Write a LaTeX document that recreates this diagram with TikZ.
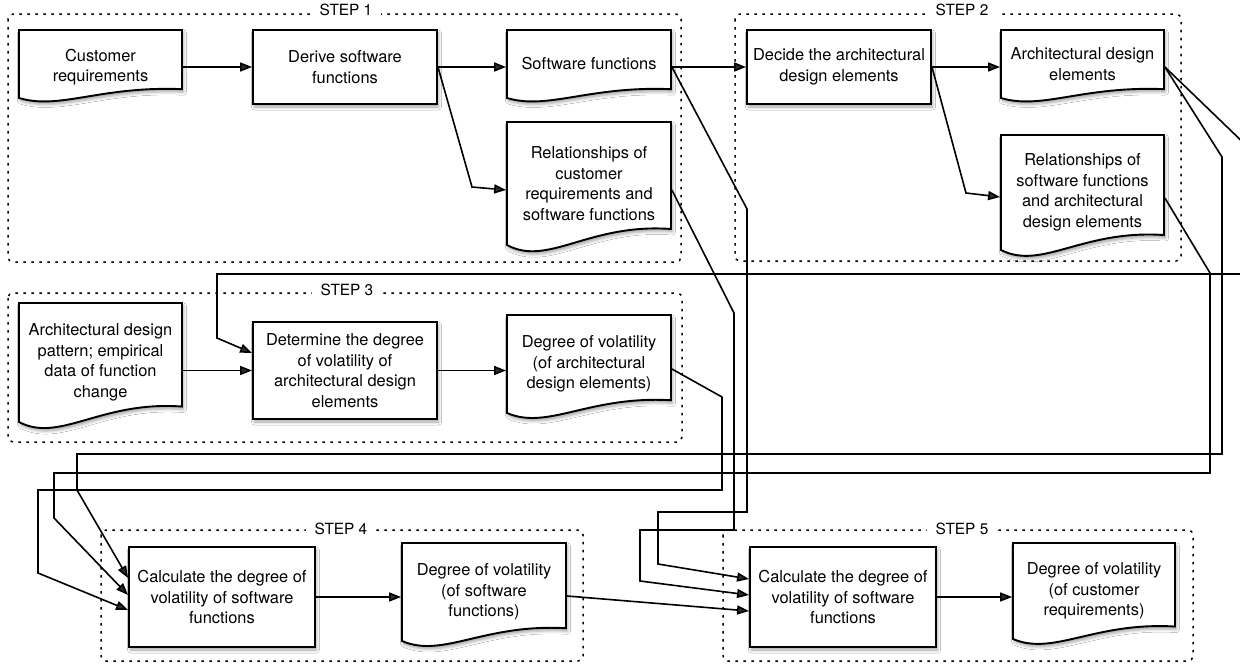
\documentclass[tikz,border=0pt]{standalone}
\usepackage{fontspec}
\setmainfont{TeX Gyre Heros}
\usetikzlibrary{arrows.meta,calc,shadows.blur}
\newcommand\mainfs{\fontsize{16.4}{20.5}\selectfont}
\newcommand\stepfs{\fontsize{15.4}{18}\selectfont}
\tikzset{
  softshadow/.style={blur shadow={shadow xshift=1.5pt, shadow yshift=-3pt, shadow blur radius=3pt, shadow opacity=35}},
  conn/.style={line width=1.6pt, -{Triangle[length=12pt,width=9pt]}},
  procbox/.style={draw, line width=1.9pt, fill=white, align=center, font=\mainfs, softshadow},
  doctext/.style={align=center, font=\mainfs, inner sep=0pt, outer sep=0.9pt},
  docline/.style={draw, line width=1.9pt, fill=white, softshadow},
  group/.style={line width=1.5pt, dash pattern=on 2.5pt off 5.5pt, rounded corners=5pt},
  steplabel/.style={fill=white, font=\stepfs, inner xsep=9pt, inner ysep=2pt, anchor=base},
}
\newcommand\docnode[7][]{%
  \pgfmathsetmacro\dh{#6-#4}%
  \pgfmathsetmacro\dw{#5-#3}%
  \path[docline] (#3,#4) -- (#5,#4) -- (#5,{#6-0.13*\dh}) .. controls ({#3+0.5*\dw},{#6-0.18*\dh}) and ({#3+0.25*\dw},{#6+0.18*\dh}) .. (#3,#6) -- cycle;
  \node[doctext, minimum width=\dw pt, minimum height=\dh pt, #1] (#2) at ({(#3+#5)/2},{(#4+#6)/2}) {#7};
}
\begin{document}
\begin{tikzpicture}[x=1pt,y=-1pt]
\useasboundingbox (0,0) rectangle (1240,664);
\fill[white] (0,0) rectangle (1240,664);
\clip (0,0) rectangle (1240,664);

% groups
\draw[group] (8,14) rectangle (681,262);
\draw[group] (735,14) rectangle (1181,261);
\draw[group] (8,293) rectangle (682,442);
\draw[group] (101,530) rectangle (583,661);
\draw[group] (723,530) rectangle (1193,661);
\node[steplabel] (s1) at (346,15.5) {STEP 1};
\node[steplabel] (s2) at (962,15.5) {STEP 2};
\node[steplabel] (s3) at (347,295) {STEP 3};
\node[steplabel] (s4) at (341,534) {STEP 4};
\node[steplabel] (s5) at (962,534) {STEP 5};

% nodes
\docnode[yshift=-3pt]{cust}{19}{30}{182}{98}{Customer\\requirements}
\node[procbox, minimum width=184pt, minimum height=74pt] (derive) at (345,67) {Derive software\\functions};
\docnode{swf}{507}{30}{671}{98}{Software functions}
\docnode{rel1}{507}{122}{671}{245}{Relationships of\\customer\\requirements and\\software functions}
\node[procbox, minimum width=184pt, minimum height=74pt] (decide) at (839,67) {Decide the architectural\\design elements};
\docnode{arch}{1001}{30}{1164}{98}{Architectural design\\elements}
\docnode{rel2}{1001}{135}{1164}{250}{Relationships of\\software functions\\and architectural\\design elements}
\docnode{pattern}{19}{303}{182}{422}{Architectural design\\pattern; empirical\\data of function\\change}
\node[procbox, minimum width=184pt, minimum height=97pt] (determine) at (345,370.5) {Determine the degree\\of volatility of\\architectural design\\elements};
\docnode{dvarch}{507}{315}{671}{413}{Degree of volatility\\(of architectural\\design elements)}
\node[procbox, minimum width=186pt, minimum height=100pt] (calc4) at (222,597) {Calculate the degree of\\volatility of software\\functions};
\docnode{dvsw}{402}{543}{566}{641}{Degree of volatility\\(of software\\functions)}
\node[procbox, minimum width=186pt, minimum height=100pt] (calc5) at (843,597) {Calculate the degree of\\volatility of software\\functions};
\docnode{dvcust}{1013}{543}{1175}{639}{Degree of volatility\\(of customer\\requirements)}

% connectors
\draw[conn] (cust.east |- derive.west) -- (derive.west);
\draw[conn] (derive.east) -- (derive.east -| swf.west);
\draw[conn] (derive.east) -- (472,187) -- ($(rel1.west)+(0,6.5)$);
\draw[conn] (swf.east |- decide.west) -- (decide.west);
\draw[conn] (decide.east) -- (decide.east -| arch.west);
\draw[conn] (decide.east) -- (966,193) -- ($(rel2.west)+(0,4.5)$);
\draw[conn] (pattern.east |- determine.west) -- (determine.west);
\draw[conn] (determine.east) -- (determine.east -| dvarch.west);
\draw[conn] (calc4.east) -- (calc4.east -| dvsw.west);
\draw[conn] (calc5.east) -- (calc5.east -| dvcust.west);
\draw[conn] ($(dvsw.east)+(0,4)$) -- ($(calc5.west)+(0,14)$);
\draw[conn] (swf.east |- decide.west) -- (747,209) -- (747,512) -- (658,512) -- (658,564) -- ($(calc5.west)+(0,-18)$);
\draw[conn] ($(rel1.east)+(0,6.5)$) -- (734,313) -- (734,530) -- (640,530) -- (640,581) -- ($(calc5.west)+(0,-2)$);
\draw[conn] (arch.east |- decide.west) -- (1252,151) -- (1252,274) -- (217,274) -- (217,338) -- ($(determine.west)+(0,-17.5)$);
\draw[conn] (arch.east |- decide.west) -- (1222,157) -- (1222,454) -- (77,454) -- (77,490) -- ($(calc4.west)+(0,-19)$);
\draw[conn] ($(rel2.east)+(0,5.5)$) -- (1210,273) -- (1210,473) -- (54,473) -- (54,518) -- ($(calc4.west)+(0,-2)$);
\draw[conn] ($(dvarch.east)+(0,5)$) -- (722,397) -- (722,490) -- (38,490) -- (38,573) -- ($(calc4.west)+(0,13)$);
\end{tikzpicture}
\end{document}
